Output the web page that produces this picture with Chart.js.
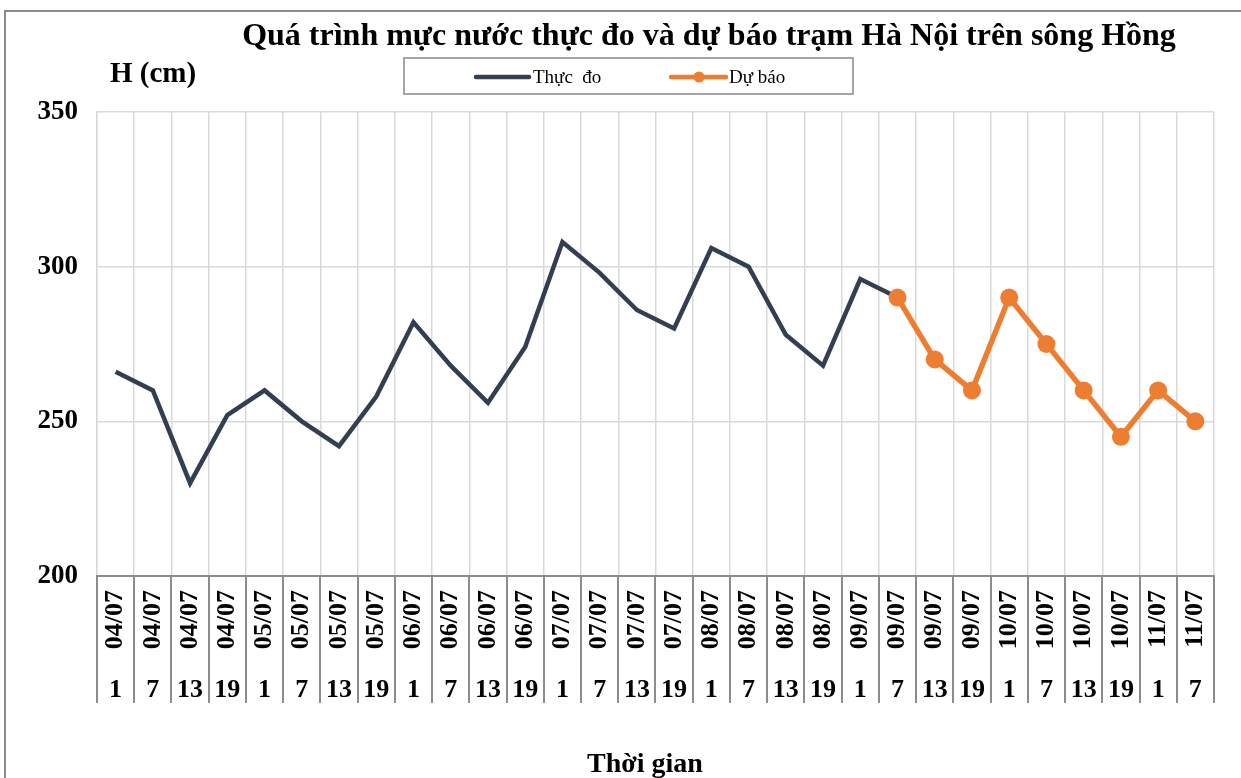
<!DOCTYPE html>
<html>
<head>
<meta charset="utf-8">
<script src="https://cdn.jsdelivr.net/npm/chart.js@4"></script>
<style>
  body { margin: 0; background: #fff; }
  #wrap { width: 1241px; height: 778px; }
</style>
</head>
<body>
<div id="wrap"><canvas id="chart" width="1241" height="778"></canvas></div>
<script>
// Dữ liệu
const ngay = ['04/07','04/07','04/07','04/07','05/07','05/07','05/07','05/07',
  '06/07','06/07','06/07','06/07','07/07','07/07','07/07','07/07',
  '08/07','08/07','08/07','08/07','09/07','09/07','09/07','09/07',
  '10/07','10/07','10/07','10/07','11/07','11/07'];
const gio = ['1','7','13','19','1','7','13','19','1','7','13','19','1','7','13','19',
  '1','7','13','19','1','7','13','19','1','7','13','19','1','7'];
const thucDo = [266, 260, 230, 252, 260, 250, 242, 258, 282, 268, 256, 274,
  308, 298, 286, 280, 306, 300, 278, 268, 296, 290,
  null, null, null, null, null, null, null, null];
const duBao = [null, null, null, null, null, null, null, null, null, null, null, null,
  null, null, null, null, null, null, null, null, null,
  290, 270, 260, 290, 275, 260, 245, 260, 250];
const yTicks = [200, 250, 300, 350];

const serif = '"Liberation Serif", "Times New Roman", serif';
const mauThucDo = '#333f50';
const mauDuBao = '#ed7d31';

// vẽ khung, tiêu đề, chú giải và đường phân cách nhãn
const trangTri = {
  id: 'trangTri',
  beforeDraw(chart) {
    const ctx = chart.ctx;
    ctx.save();
    ctx.fillStyle = '#fff';
    ctx.fillRect(0, 0, chart.width, chart.height);
    ctx.strokeStyle = '#8c8c8c';
    ctx.lineWidth = 2;
    ctx.strokeRect(5, 11, chart.width + 10, chart.height + 10);
    ctx.restore();
  },
  afterDraw(chart) {
    const ctx = chart.ctx;
    const x = chart.scales.x;
    const x2 = chart.scales.x2;
    const area = chart.chartArea;
    ctx.save();

    // đường phân cách giữa các nhãn
    ctx.strokeStyle = '#8c8c8c';
    ctx.lineWidth = 2;
    const buoc = x.getPixelForValue(1) - x.getPixelForValue(0);
    ctx.beginPath();
    for (let i = 0; i <= ngay.length; i++) {
      const px = Math.round(x.getPixelForValue(i) - buoc / 2);
      ctx.moveTo(px, area.bottom);
      ctx.lineTo(px, x2.bottom);
    }
    ctx.moveTo(area.left - 1, area.bottom);
    ctx.lineTo(area.right + 1, area.bottom);
    ctx.stroke();

    // tiêu đề
    ctx.fillStyle = '#000';
    ctx.textBaseline = 'middle';
    ctx.textAlign = 'center';
    ctx.font = 'bold 32px ' + serif;
    ctx.fillText('Quá trình mực nước thực đo và dự báo trạm Hà Nội trên sông Hồng', 709, 37);
    ctx.font = 'bold 28px ' + serif;
    ctx.fillText('Thời gian', 645, 765);
    ctx.textAlign = 'left';
    ctx.font = 'bold 29px ' + serif;
    ctx.fillText('H (cm)', 110, 75);

    // chú giải
    ctx.strokeStyle = '#a6a6a6';
    ctx.lineWidth = 2;
    ctx.strokeRect(404, 58, 449, 36);
    ctx.lineCap = 'round';
    ctx.lineWidth = 4.5;
    ctx.strokeStyle = mauThucDo;
    ctx.beginPath(); ctx.moveTo(476, 77); ctx.lineTo(529, 77); ctx.stroke();
    ctx.strokeStyle = mauDuBao;
    ctx.beginPath(); ctx.moveTo(671, 77); ctx.lineTo(726, 77); ctx.stroke();
    ctx.fillStyle = mauDuBao;
    ctx.beginPath(); ctx.arc(699, 77, 5.5, 0, Math.PI * 2); ctx.fill();
    ctx.fillStyle = '#000';
    ctx.font = '19px ' + serif;
    ctx.fillText('Thực  đo', 533, 78);
    ctx.fillText('Dự báo', 729, 78);
    ctx.restore();
  }
};

const config = {
  type: 'line',
  data: {
    labels: ngay,
    datasets: [
      {
        label: 'Dự báo',
        data: duBao,
        borderColor: mauDuBao,
        backgroundColor: mauDuBao,
        borderWidth: 5.5,
        pointRadius: 9,
        pointBorderWidth: 0,
        pointBackgroundColor: mauDuBao,
        tension: 0,
        order: 0
      },
      {
        label: 'Thực  đo',
        data: thucDo,
        borderColor: mauThucDo,
        backgroundColor: mauThucDo,
        borderWidth: 4.5,
        pointRadius: 0,
        tension: 0,
        order: 1
      }
    ]
  },
  options: {
    responsive: false,
    animation: false,
    devicePixelRatio: 1,
    layout: { padding: { left: 0, top: 112, right: 26, bottom: 75 } },
    plugins: { legend: { display: false }, title: { display: false }, tooltip: { enabled: false } },
    scales: {
      x: {
        type: 'category',
        labels: ngay,
        offset: true,
        grid: { color: '#d9d9d9', lineWidth: 1.5, offset: true, drawTicks: false },
        border: { display: false },
        ticks: {
          autoSkip: false, minRotation: 90, maxRotation: 90, padding: 14,
          color: '#000', font: { family: serif, size: 26, weight: 'bold' }
        },
        afterFit(s) { s.height = 85; }
      },
      x2: {
        type: 'category',
        labels: gio,
        position: 'bottom',
        offset: true,
        grid: { display: false, drawTicks: false },
        border: { display: false },
        ticks: {
          autoSkip: false, maxRotation: 0, minRotation: 0, padding: 14,
          color: '#000', font: { family: serif, size: 26, weight: 'bold' }
        },
        afterFit(s) { s.height = 42; }
      },
      y: {
        min: 200, max: 350,
        afterBuildTicks(s) { s.ticks = yTicks.map(v => ({ value: v })); },
        grid: { color: '#d9d9d9', lineWidth: 1.5, drawTicks: false },
        border: { color: '#d9d9d9', width: 1.5 },
        ticks: {
          padding: 19, color: '#000',
          font: { family: serif, size: 27, weight: 'bold' }
        },
        afterFit(s) { s.width = 97; }
      }
    }
  },
  plugins: [trangTri]
};

new Chart(document.getElementById('chart'), config);
</script>
</body>
</html>
